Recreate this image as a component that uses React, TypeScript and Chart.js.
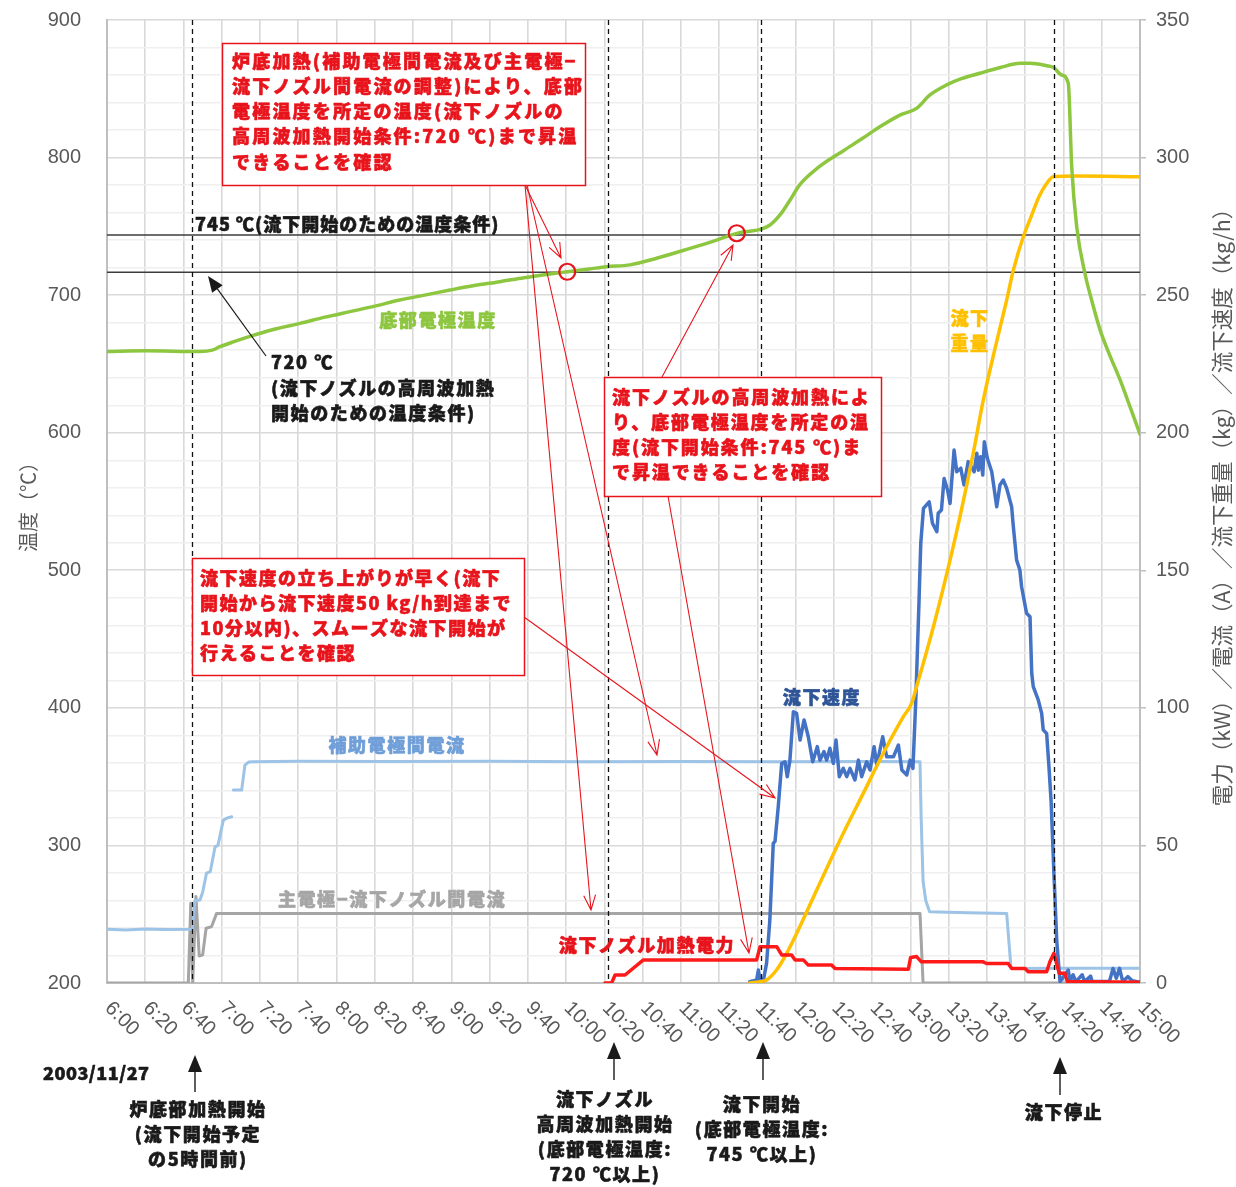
import React, { useEffect, useRef } from "react";
import { Chart, registerables } from "chart.js";

Chart.register(...registerables);

// ---- axis / tick data ----
const xTickLabels = ["6:00","6:20","6:40","7:00","7:20","7:40","8:00","8:20","8:40","9:00","9:20","9:40","10:00","10:20","10:40","11:00","11:20","11:40","12:00","12:20","12:40","13:00","13:20","13:40","14:00","14:20","14:40","15:00"];
const xMinutesMax = 540; // minutes from 6:00
const tempMin = 200, tempMax = 900, tempStep = 100, tempMinorStep = 20;
const rightMin = 0, rightMax = 350, rightStep = 50;

// ---- series: minutes after 6:00 ----
// 底部電極温度 (°C, left axis)
const greenT = [0,20,48.6,55,59,66,74.7,87,100.9,114,127,140,153,166,179.3,192,205.4,218,231.6,240.6,252,261.2,273.4,287.3,304.8,318.7,329.2,336,341.4,346.6,351.8,357,362,372,385,395,404,414.5,423.2,430.2,438.9,447,456.3,467,477.3,482.5,491.2,494.7,499,502.5,504.3,506.9,511.2,514.7,519.3,524,529.7,535,540];
const greenV = [659,659.5,659,660,662.5,666,670,675,679.5,684,688,692,696.5,700,703.7,707,709.8,712.7,715.4,717,719,720.7,722,726.8,734,740,744.9,746.5,747.8,751,758.3,769,780,793,805,814,822.4,830.9,835.8,845.5,852.8,857.5,861.3,865.5,868.5,868.5,866.8,865.6,860,854,793.4,749.8,715.9,696.5,674,657,638,618,599];

// 補助電極間電流 (A, right axis) — null = gap in record
const ltBlueT = [0,10,20,30,44.5,46,48.6,50,52,54,56.5,58,60.8,63,65.2,65.6,66,70.4,72.1,74,76.5,100,150,200,250,300,350,400,425,425.6,426.6,428,430,450,470.3,472.5,473,500,540];
const ltBlueV = [19.5,19.3,19.6,19.4,19.5,30,30.2,33,39.9,40.5,49.5,50,59.2,60,60.4,null,70.1,70.1,79.2,80.3,80.4,80.6,80.5,80.6,80.4,80.5,80.4,80.5,80.4,60,37,30,25.9,25.5,25.3,6,5.3,5.4,5.4];

// 主電極−流下ノズル間電流 (A, right axis)
const grayT = [0,42.5,43.8,44.8,46.5,48.2,50,51.8,54.7,57.3,200,425,426.6,540];
const grayV = [0,0,29,0,31.4,9.8,10.2,19.9,20.5,25.3,25.3,25.3,0,0];

// 流下ノズル加熱電力 (kW, right axis)
const redT = [260.3,263.8,265.6,270.8,280.4,339.6,341.4,350.1,352.7,357.9,359.6,364,366.6,378.8,380.6,418.9,420.1,423.2,425.7,458,459.8,471.1,472.9,479.9,481.6,491.2,492.9,495,496.4,497.8,500.8,502,540];
const redV = [0,0,2.9,2.9,8.4,8.4,13.2,13.2,10.2,10.2,8.4,8.4,6.5,6.5,5.3,5.0,9.3,9.6,7.7,7.7,7.1,7.1,5.3,5.3,4.1,4.1,7.7,10.8,7.1,3.5,3.5,0.5,0.3];

// 流下速度 (kg/h, right axis)
const blueT = [336,339.6,340.5,341.5,343,344.8,346.5,348.3,349.2,350.9,352.7,354.4,355.6,357,358.8,360.5,362.3,364.4,366.6,368.9,371.3,372.7,374.8,376.2,377.9,379.7,381.1,382.8,384.9,386.7,388.4,391,392.8,394.5,397.1,398.9,401,402.4,405.5,407.6,411.1,413.7,415.5,418.1,419.8,421.3,422.8,424.5,425.4,426.8,429.8,431.5,433.8,434.5,436.2,437.6,439.4,440.7,442.8,444.2,446.3,448,450.2,453.3,454.7,455.5,456.7,457.8,458.6,460.2,462.5,465.1,466.8,468.5,470.3,472.9,473.7,475.5,477.2,478.1,480.7,482.5,483.4,484.2,486.8,488.6,489.4,491.2,492.4,493.5,495,496.5,498.2,502.5,503.4,505,506.5,509.8,511,514.2,515,524,525.9,527.6,529.3,531,533.6,536,540];
const blueV = [0.5,1.1,4.7,0.5,0.5,7.2,22.9,50.8,51.4,64.1,79.8,80.4,75,81,98.6,98,88.3,95.6,89.5,80.4,85.9,81,84.1,81,85.3,79.8,88.3,75,78,75,78,73.8,81,75,80.4,77.4,85.9,79.2,89.5,82.2,82.2,86.5,77.4,75.6,81,78,102.9,139.2,159.8,172.5,174.9,167.1,164,170.7,171.9,183.4,179.2,174.3,193.7,185.8,187.1,181,189.5,185.8,192.5,186.4,191.3,184.6,196.7,190.7,185.8,173.1,181,182.8,179.8,173.1,166.5,153.7,150.1,144,134.4,133.1,112.6,107.7,102.9,98,92,90.7,78.6,66.5,40,15,0.5,4.7,0.5,3,0.5,3,0.5,2.5,0.5,0.5,5.3,1.7,5.3,0.5,2.3,0.8,0.3];

// 流下重量 (kg, right axis)
const yellowT = [336,341.4,344.8,350,355.3,360.5,371,383.2,395.4,405.8,416.3,420.6,423.2,432,440.7,445.9,452.8,458.1,464,470.3,473.8,479,483.4,487,491.2,494.7,506.9,540];
const yellowV = [0,0.5,1.1,4.7,10.8,18,33.8,52,69,83.5,96.8,101.6,107.7,129.5,153.7,169.5,192.5,211.9,230,248.2,259.1,271.2,279.1,285.5,290.6,293,293.3,293];

// ---- annotation anchors (data units) ----
const eventMinutes = [44.4, 261.9, 341.9, 495.0];          // dashed event lines
const thresholdTemps = [716.6, 743.7];                      // 720 / 745 ℃ lines
const checkCircles = [{ t: 240.6, v: 717 }, { t: 329.2, v: 745 }];

const pts = (t: number[], v: (number | null)[]) => t.map((x, i) => ({ x, y: v[i] }));

const JP = '"Noto Sans CJK JP", "Noto Sans", sans-serif';
const NUM = '"Liberation Sans", Arial, sans-serif';

function txt(ctx: CanvasRenderingContext2D, s: string, x: number, y: number, color: string, align: CanvasTextAlign = "left", size = 18, bold = true, spacing = 1.6) {
  ctx.save();
  ctx.font = `${bold ? "900 " : ""}${size}px ${JP}`;
  (ctx as any).letterSpacing = `${spacing}px`;
  ctx.fillStyle = color;
  ctx.strokeStyle = color;
  ctx.lineWidth = 0.6;
  ctx.lineJoin = "round";
  ctx.textAlign = align;
  ctx.textBaseline = "middle";
  ctx.fillText(s, x, y);
  if (bold) ctx.strokeText(s, x, y);
  ctx.restore();
}

function openArrow(ctx: CanvasRenderingContext2D, x1: number, y1: number, x2: number, y2: number) {
  const a = Math.atan2(y2 - y1, x2 - x1);
  const L = 16, w = 0.38;
  ctx.beginPath();
  ctx.moveTo(x1, y1); ctx.lineTo(x2, y2);
  ctx.moveTo(x2 - L * Math.cos(a - w), y2 - L * Math.sin(a - w));
  ctx.lineTo(x2, y2);
  ctx.lineTo(x2 - L * Math.cos(a + w), y2 - L * Math.sin(a + w));
  ctx.stroke();
}

function solidArrow(ctx: CanvasRenderingContext2D, x1: number, y1: number, x2: number, y2: number, L = 16, W = 6.5) {
  const a = Math.atan2(y2 - y1, x2 - x1);
  const bx = x2 - L * Math.cos(a), by = y2 - L * Math.sin(a);
  ctx.beginPath(); ctx.moveTo(x1, y1); ctx.lineTo(bx, by); ctx.stroke();
  ctx.beginPath();
  ctx.moveTo(x2, y2);
  ctx.lineTo(bx + W * Math.sin(a), by - W * Math.cos(a));
  ctx.lineTo(bx - W * Math.sin(a), by + W * Math.cos(a));
  ctx.closePath(); ctx.fill();
}

const RED = "#e8141c";

const annotationPlugin = {
  id: "annotations",
  beforeDatasetsDraw(chart: any) {
    const { ctx, chartArea: a, scales } = chart;
    ctx.save();
    ctx.strokeStyle = "#3c3c3c";
    ctx.lineWidth = 1.5;
    for (const v of thresholdTemps) {
      const py = scales.y.getPixelForValue(v);
      ctx.beginPath(); ctx.moveTo(a.left, py); ctx.lineTo(a.right, py); ctx.stroke();
    }
    ctx.restore();
  },
  afterDatasetsDraw(chart: any) {
    const { ctx, chartArea: a, scales } = chart;
    const xs = scales.x, ys = scales.y;
    ctx.save();
    // dashed event lines
    ctx.strokeStyle = "#111";
    ctx.lineWidth = 1.3;
    ctx.setLineDash([5, 4]);
    for (const t of eventMinutes) {
      const px = Math.round(xs.getPixelForValue(t)) + 0.5;
      ctx.beginPath(); ctx.moveTo(px, a.top); ctx.lineTo(px, a.bottom); ctx.stroke();
    }
    ctx.setLineDash([]);
    // circles
    ctx.strokeStyle = RED; ctx.lineWidth = 2.2;
    for (const c of checkCircles) {
      ctx.beginPath();
      ctx.arc(xs.getPixelForValue(c.t), ys.getPixelForValue(c.v), 8, 0, Math.PI * 2);
      ctx.stroke();
    }
    // red arrows
    ctx.lineWidth = 1.1;
    openArrow(ctx, 525, 185, 561, 258);
    openArrow(ctx, 527, 185, 657, 755);
    openArrow(ctx, 525, 185, 591, 910);
    openArrow(ctx, 662, 377, 733, 245);
    openArrow(ctx, 668, 496, 749, 953);
    openArrow(ctx, 524, 617, 775, 798);

    // boxes
    const boxes = [
      { x: 222, y: 43, w: 363, h: 142, tx: 232, ty: 61, sp: 2.2, lines: ["炉底加熱(補助電極間電流及び主電極−", "流下ノズル間電流の調整)により、底部", "電極温度を所定の温度(流下ノズルの", "高周波加熱開始条件:720 ℃)まで昇温", "できることを確認"] },
      { x: 604, y: 377, w: 277, h: 119, tx: 612, ty: 397, sp: 1.9, lines: ["流下ノズルの高周波加熱によ", "り、底部電極温度を所定の温", "度(流下開始条件:745 ℃)ま", "で昇温できることを確認"] },
      { x: 192, y: 558, w: 332, h: 117, tx: 200, ty: 578, sp: 1.5, lines: ["流下速度の立ち上がりが早く(流下", "開始から流下速度50 kg/h到達まで", "10分以内)、スムーズな流下開始が", "行えることを確認"] },
    ];
    for (const b of boxes) {
      ctx.fillStyle = "#fff";
      ctx.fillRect(b.x, b.y, b.w, b.h);
      ctx.strokeStyle = RED; ctx.lineWidth = 1.5;
      ctx.strokeRect(b.x + 0.5, b.y + 0.5, b.w, b.h);
      b.lines.forEach((s, i) => txt(ctx, s, b.tx, b.ty + i * 25.2, RED, "left", 18, true, b.sp));
    }

    // threshold texts
    txt(ctx, "745 ℃(流下開始のための温度条件)", 195, 224, "#1a1a1a", "left", 18, true, 1);
    txt(ctx, "720 ℃", 271, 362, "#1a1a1a");
    txt(ctx, "(流下ノズルの高周波加熱", 271, 388, "#1a1a1a");
    txt(ctx, "開始のための温度条件)", 271, 413, "#1a1a1a");
    ctx.strokeStyle = "#1a1a1a"; ctx.fillStyle = "#1a1a1a"; ctx.lineWidth = 1.2;
    solidArrow(ctx, 266, 356, 208, 276);

    // series labels
    txt(ctx, "底部電極温度", 438, 320, "#8dc63f", "center");
    txt(ctx, "補助電極間電流", 397, 745, "#6f9ed8", "center");
    txt(ctx, "主電極−流下ノズル間電流", 392, 899, "#a6a6a6", "center");
    txt(ctx, "流下ノズル加熱電力", 647, 945, RED, "center");
    txt(ctx, "流下速度", 822, 697, "#2f5597", "center");
    txt(ctx, "流下", 970, 318, "#ffc000", "center");
    txt(ctx, "重量", 970, 343, "#ffc000", "center");
    ctx.restore();
  },
  afterDraw(chart: any) {
    const { ctx, chartArea: a, scales } = chart;
    const xs = scales.x;
    ctx.save();
    // rotated x tick labels
    ctx.font = `20px ${NUM}`;
    ctx.fillStyle = "#595959";
    ctx.textAlign = "left";
    ctx.textBaseline = "middle";
    xTickLabels.forEach((lab, i) => {
      const px = xs.getPixelForValue(i * 20);
      ctx.save();
      ctx.translate(px + 1, a.bottom + 22);
      ctx.rotate(Math.PI / 4);
      ctx.fillText(lab, 0, 0);
      ctx.restore();
    });
    // axis titles
    ctx.textAlign = "center";
    ctx.font = `20px ${JP}`;
    ctx.save(); ctx.translate(28, 502); ctx.rotate(-Math.PI / 2); ctx.fillText("温度（℃）", 0, 0); ctx.restore();
    ctx.font = `21.5px ${JP}`;
    ctx.save(); ctx.translate(1222, 502); ctx.rotate(-Math.PI / 2); ctx.fillText("電力（kW）／電流（A）／流下重量（kg）／流下速度（kg/h）", 0, 0); ctx.restore();

    // bottom event notes
    ctx.strokeStyle = "#1a1a1a"; ctx.fillStyle = "#1a1a1a"; ctx.lineWidth = 1.4;
    solidArrow(ctx, 195, 1092, 195, 1055, 17, 7);
    solidArrow(ctx, 614, 1080, 614, 1042, 17, 7);
    solidArrow(ctx, 763, 1080, 763, 1042, 17, 7);
    solidArrow(ctx, 1060, 1095, 1060, 1057, 17, 7);
    const K = "#1a1a1a";
    txt(ctx, "2003/11/27", 43, 1073, K, "left", 18, true, 0.5);
    ["炉底部加熱開始", "(流下開始予定", "の5時間前)"].forEach((s, i) => txt(ctx, s, 198, 1109 + i * 25, K, "center"));
    ["流下ノズル", "高周波加熱開始", "(底部電極温度:", "720 ℃以上)"].forEach((s, i) => txt(ctx, s, 605, 1099 + i * 25, K, "center"));
    ["流下開始", "(底部電極温度:", "745 ℃以上)"].forEach((s, i) => txt(ctx, s, 762, 1104 + i * 25, K, "center"));
    txt(ctx, "流下停止", 1064, 1112, K, "center");
    ctx.restore();
  },
};

export default function App() {
  const ref = useRef<HTMLCanvasElement>(null);
  useEffect(() => {
    document.body.style.margin = "0";
    const line = (label: string, data: any, color: string, axis: string, order: number, width = 3.2, smooth = false) => ({
      label, data, borderColor: color, backgroundColor: color, yAxisID: axis, order,
      borderWidth: width, pointRadius: 0, tension: 0, spanGaps: false,
      borderJoinStyle: "round", borderCapStyle: "round",
      cubicInterpolationMode: smooth ? "monotone" : "default",
    });
    const zeroPad = (s: any) => { s.paddingTop = 0; s.paddingBottom = 0; };
    const chart = new Chart(ref.current as HTMLCanvasElement, {
      type: "line",
      data: {
        datasets: [
          line("底部電極温度", pts(greenT, greenV), "#8dc63f", "y", 0, 3.5, true),
          line("流下ノズル加熱電力", pts(redT, redV), "#ff1a1a", "y1", 1, 3.5),
          line("流下重量", pts(yellowT, yellowV), "#ffc000", "y1", 2, 3.5, true),
          line("流下速度", pts(blueT, blueV), "#4472c4", "y1", 3, 3.5),
          line("補助電極間電流", pts(ltBlueT, ltBlueV), "#9dc3e6", "y1", 4, 3),
          line("主電極−流下ノズル間電流", pts(grayT, grayV), "#a5a5a5", "y1", 5, 3),
        ] as any,
      },
      options: {
        animation: false,
        responsive: false,
        layout: { padding: { left: 47, right: 0, top: 20, bottom: 0 } },
        plugins: { legend: { display: false }, tooltip: { enabled: false } },
        scales: {
          x: {
            type: "linear", min: 0, max: xMinutesMax,
            ticks: { stepSize: 20, display: false },
            grid: { color: "#d9d9d9", lineWidth: 1.6, drawTicks: false },
            border: { color: "#bfbfbf", width: 2 },
            afterFit: (s: any) => { s.height = 204; s.paddingLeft = 0; s.paddingRight = 0; },
          },
          y: {
            position: "left", min: tempMin, max: tempMax,
            ticks: {
              stepSize: tempMinorStep, autoSkip: false, padding: 26, color: "#595959",
              font: { family: NUM, size: 20 },
              callback: (v: any) => (Number(v) % tempStep === 0 ? String(v) : ""),
            },
            grid: {
              drawTicks: false,
              color: (c: any) => (c.tick && c.tick.value % tempStep === 0 ? "#d9d9d9" : "#efefef"),
              lineWidth: (c: any) => (c.tick && c.tick.value % tempStep === 0 ? 1.6 : 1.4),
            },
            border: { color: "#bfbfbf", width: 2 },
            afterFit: (s: any) => { s.width = 60; zeroPad(s); },
          },
          y1: {
            position: "right", min: rightMin, max: rightMax,
            ticks: { stepSize: rightStep, padding: 10, color: "#595959", font: { family: NUM, size: 20 } },
            grid: { drawOnChartArea: false, tickLength: 6, color: "#bfbfbf", lineWidth: 1.5 },
            border: { color: "#bfbfbf", width: 2 },
            afterFit: (s: any) => { s.width = 96; zeroPad(s); },
          },
        },
      } as any,
      plugins: [annotationPlugin],
    });
    return () => chart.destroy();
  }, []);
  return (
    <div style={{ width: 1236, height: 1187 }}>
      <canvas ref={ref} width={1236} height={1187} style={{ display: "block" }} />
    </div>
  );
}
